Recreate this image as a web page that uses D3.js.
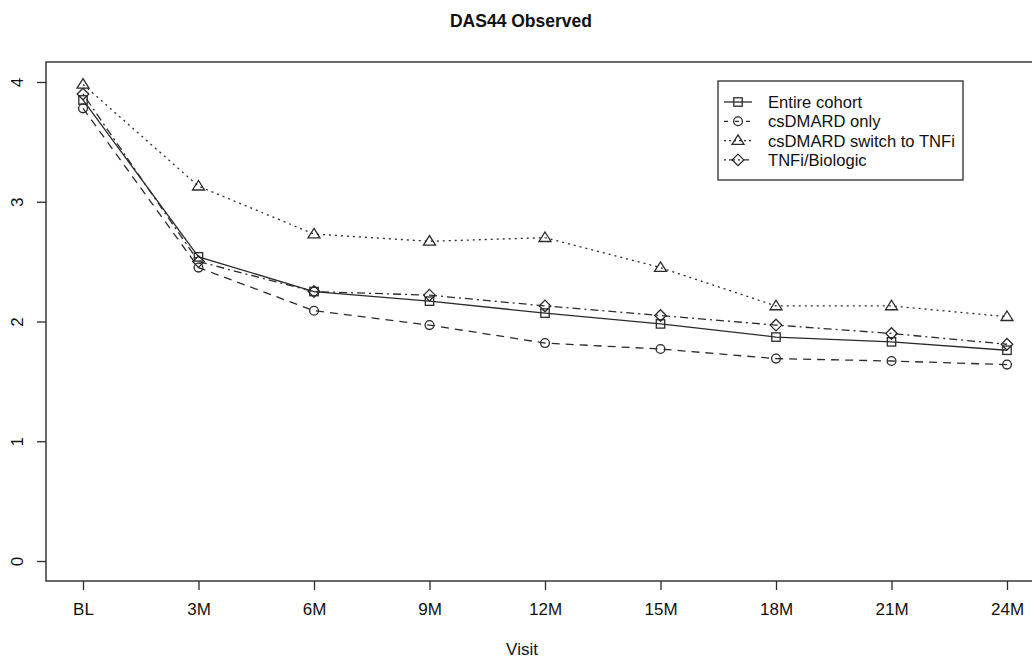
<!DOCTYPE html>
<html><head><meta charset="utf-8">
<script src="https://cdn.jsdelivr.net/npm/d3@7"></script>
<style>body{margin:0;background:#fff;} svg{display:block;} text{font-family:"Liberation Sans",Arial,sans-serif;fill:#111;}</style>
</head><body><svg id="c" width="1032" height="658"></svg>
<script>
const visits = ["BL","3M","6M","9M","12M","15M","18M","21M","24M"];
const yTicks = [0,1,2,3,4];
const seriesNames = ["Entire cohort","csDMARD only","csDMARD switch to TNFi","TNFi/Biologic"];
const entireCohort = [3.85,2.54,2.25,2.17,2.07,1.98,1.87,1.83,1.76];
const csdmardOnly  = [3.78,2.45,2.09,1.97,1.82,1.77,1.69,1.67,1.64];
const csdmardSwitch= [3.98,3.13,2.73,2.67,2.70,2.45,2.13,2.13,2.04];
const tnfiBiologic = [3.90,2.50,2.25,2.22,2.13,2.05,1.97,1.90,1.81];

const series = [
  {name:seriesNames[0], values:entireCohort, dash:null, sym:"square"},
  {name:seriesNames[1], values:csdmardOnly, dash:"8,6", sym:"circle"},
  {name:seriesNames[2], values:csdmardSwitch, dash:"2,4", sym:"triangle"},
  {name:seriesNames[3], values:tnfiBiologic, dash:"2,4,8,4", sym:"diamond"}
];

const svg = d3.select("#c");
const col = "#2a2a2a";
const x = d3.scalePoint().domain(visits).range([83,1007]);
const y = d3.scaleLinear().domain([0,4]).range([561,82]);

svg.append("rect").attr("x",46).attr("y",62).attr("width",1000).attr("height",519)
  .attr("fill","none").attr("stroke",col).attr("stroke-width",1.4);

const xa = svg.append("g").attr("transform","translate(0,581)")
  .call(d3.axisBottom(x).tickSize(9).tickPadding(13));
xa.select(".domain").remove();
xa.selectAll("line").attr("stroke",col).attr("stroke-width",1.3);
xa.selectAll("text").attr("font-size",17).attr("font-family","Liberation Sans, Arial, sans-serif").attr("fill","#111");

const ya = svg.append("g").attr("transform","translate(46,0)")
  .call(d3.axisLeft(y).tickValues(yTicks).tickSize(9).tickFormat(d3.format("d")));
ya.select(".domain").remove();
ya.selectAll("line").attr("stroke",col).attr("stroke-width",1.3);
ya.selectAll("text").attr("font-size",17).attr("font-family","Liberation Sans, Arial, sans-serif").attr("fill","#111")
  .attr("x",0).attr("dy",0).attr("text-anchor","middle")
  .attr("transform","translate(-23,0) rotate(-90)");

svg.append("text").attr("x",521).attr("y",27).attr("text-anchor","middle")
  .attr("font-size",17.5).attr("font-weight","bold").text("DAS44 Observed");
svg.append("text").attr("x",522).attr("y",655).attr("text-anchor","middle")
  .attr("font-size",17).text("Visit");

function drawSym(g, s, cx, cy){
  const sw = 1.3;
  if(s.sym==="circle"){
    g.append("circle").attr("cx",cx).attr("cy",cy).attr("r",4.4)
      .attr("fill","none").attr("stroke",col).attr("stroke-width",sw);
  } else if(s.sym==="diamond"){
    const r=5.8;
    g.append("path").attr("d",`M${cx},${cy-r}L${cx+r},${cy}L${cx},${cy+r}L${cx-r},${cy}Z`)
      .attr("fill","none").attr("stroke",col).attr("stroke-width",sw);
  } else if(s.sym==="triangle"){
    const h=9.5, w=12;
    g.append("path").attr("d",`M${cx},${cy-h*0.6}L${cx+w/2},${cy+h*0.4}L${cx-w/2},${cy+h*0.4}Z`)
      .attr("fill","none").attr("stroke",col).attr("stroke-width",sw);
  } else {
    const a=4.2;
    g.append("rect").attr("x",cx-a).attr("y",cy-a).attr("width",2*a).attr("height",2*a)
      .attr("fill","none").attr("stroke",col).attr("stroke-width",sw);
  }
}

const line = d3.line().x((d,i)=>x(visits[i])).y(d=>y(d));
series.forEach(s=>{
  const g = svg.append("g");
  g.append("path").attr("d",line(s.values)).attr("fill","none").attr("stroke",col)
    .attr("stroke-width",1.3).attr("stroke-dasharray",s.dash);
  s.values.forEach((v,i)=>drawSym(g,s,x(visits[i]),y(v)));
});

const lg = svg.append("g");
lg.append("rect").attr("x",718).attr("y",81).attr("width",245).attr("height",99)
  .attr("fill","#fff").attr("stroke",col).attr("stroke-width",1.3);
series.forEach((s,i)=>{
  const yy = 102 + i*19.3;
  lg.append("line").attr("x1",724).attr("x2",752).attr("y1",yy).attr("y2",yy)
    .attr("stroke",col).attr("stroke-width",1.3).attr("stroke-dasharray",s.dash ? (s.dash==="8,6"?"4,7":s.dash==="2,4"?"2,3":"2,3,6,3") : null);
  drawSym(lg,s,738,yy);
  lg.append("text").attr("x",768).attr("y",yy+6).attr("font-size",16.6).text(s.name);
});
</script></body></html>
